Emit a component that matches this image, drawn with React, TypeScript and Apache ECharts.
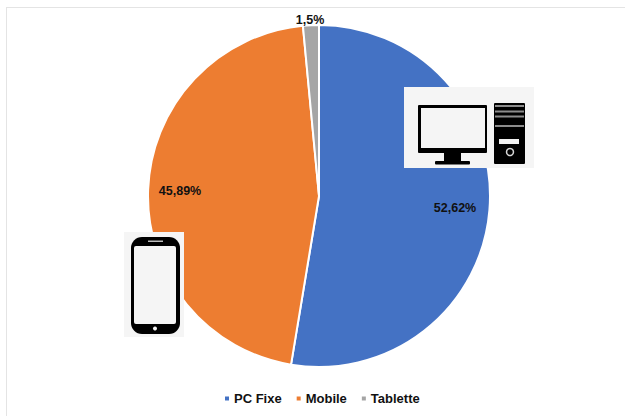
import React, { useEffect, useRef } from "react";
import * as echarts from "echarts";

const categories = ["PC Fixe", "Mobile", "Tablette"];
const shares = [52.62, 45.89, 1.5];
const colors = ["#4472C4", "#ED7D31", "#A5A5A5"];
const labelCentres = [
  [455, 208],
  [180, 191],
  [310, 20],
];
const FONT = "'Liberation Sans', Arial, sans-serif";

const rect = (x: number, y: number, width: number, height: number, fill: string, r = 0) => ({
  type: "rect",
  shape: { x, y, width, height, r },
  style: { fill },
  silent: true,
});

const BLACK = "#000000";
const PANEL = "#f5f5f5";
const STRIPE = "#8c8c8c";

const frame = [
  { type: "line", shape: { x1: 6, y1: 7.5, x2: 625, y2: 7.5 }, style: { stroke: "#e4e4e4", lineWidth: 1 }, silent: true },
  { type: "line", shape: { x1: 6.5, y1: 7, x2: 6.5, y2: 416 }, style: { stroke: "#e4e4e4", lineWidth: 1 }, silent: true },
];

const computer = [
  rect(404, 87, 130, 81, PANEL),
  rect(418, 105, 69, 48, BLACK, 1),
  rect(421, 108, 64, 40, PANEL),
  rect(444, 153, 17, 8, BLACK),
  rect(435, 161, 35, 3.5, BLACK, 1),
  rect(494, 103, 31, 61, BLACK, 1),
  rect(495, 105, 29, 2, STRIPE),
  rect(495, 110.5, 29, 2, STRIPE),
  rect(495, 115.5, 29, 2, STRIPE),
  rect(495, 125, 29, 2, STRIPE),
  rect(499, 139, 20, 5, "#f2f2f2"),
  {
    type: "circle",
    shape: { cx: 510, cy: 152, r: 3.5 },
    style: { fill: BLACK, stroke: "#d8d8d8", lineWidth: 1.5 },
    silent: true,
  },
];

const phone = [
  rect(124, 232, 60, 105, PANEL),
  rect(131, 237, 49, 97, BLACK, 11),
  rect(134, 246, 42, 78, PANEL, 2),
  rect(148, 240.5, 15, 1.5, "#bdbdbd"),
  { type: "circle", shape: { cx: 155, cy: 328.5, r: 2 }, style: { fill: "#f5f5f5" }, silent: true },
];

export default function App() {
  const ref = useRef<HTMLDivElement>(null);
  useEffect(() => {
    const chart = echarts.init(ref.current!, null, { renderer: "svg" });
    chart.setOption({
      animation: false,
      backgroundColor: "#ffffff",
      color: colors,
      textStyle: { fontFamily: FONT },
      legend: {
        data: categories,
        left: 218,
        top: 387,
        icon: "rect",
        itemWidth: 6,
        itemHeight: 6,
        itemGap: 13,
        textStyle: { fontFamily: FONT, fontSize: 13, fontWeight: "bold", color: "#111111", padding: [0, 0, 0, -1] },
      },
      series: [
        {
          type: "pie",
          center: [319, 196],
          radius: [0, 171],
          startAngle: 90,
          clockwise: true,
          data: categories.map((name, i) => ({ name, value: shares[i] })),
          itemStyle: { borderColor: "#ffffff", borderWidth: 2 },
          label: {
            show: true,
            position: "inside",
            formatter: (p: any) => `${String(p.value).replace(".", ",")}%`,
            fontFamily: FONT,
            fontSize: 12.5,
            fontWeight: "bold",
            color: "#111111",
          },
          labelLine: { show: false },
          labelLayout: (p: any) => ({
            x: labelCentres[p.dataIndex][0],
            y: labelCentres[p.dataIndex][1],
            align: "center",
            verticalAlign: "middle",
          }),
        },
      ],
      graphic: { elements: [...frame, ...computer, ...phone].map((e) => ({ ...e, z: 20 })) },
    });
    return () => chart.dispose();
  }, []);
  return (
    <div
      ref={ref}
      style={{ position: "fixed", left: 0, top: 0, width: 625, height: 416 }}
    />
  );
}
